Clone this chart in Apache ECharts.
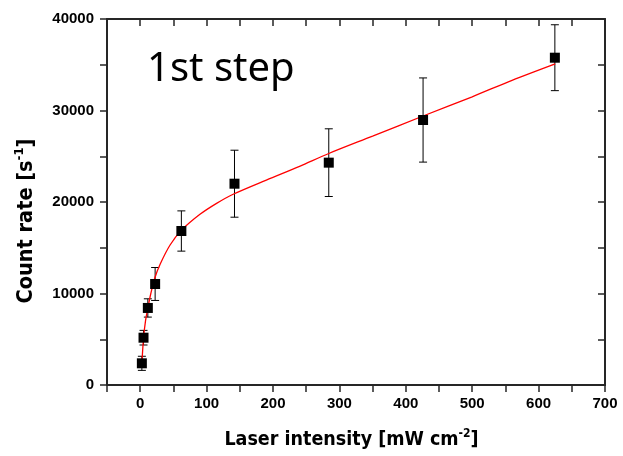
<!DOCTYPE html>
<html>
<head>
<meta charset="utf-8">
<script src="https://cdn.jsdelivr.net/npm/echarts@6/dist/echarts.min.js"></script>
<style>
  html, body { margin: 0; padding: 0; background: #fff; }
  #chart { width: 623px; height: 456px; }
</style>
</head>
<body>
<div id="chart"></div>
<script>
// measured points: laser intensity, count rate, error
var intensity = [2.5, 5, 11.5, 22.5, 62, 142, 284, 426, 624.5];
var countRate = [2370, 5170, 8420, 11040, 16830, 22000, 24300, 28960, 35770];
var countErr = [770, 800, 1000, 1800, 2200, 3660, 3700, 4600, 3600];

// red fit curve
var fitX = [2, 2.5, 5, 8, 11.5, 16, 22, 30, 45, 62, 90, 115, 140, 190, 240, 284, 350, 426, 500, 560, 625];
var fitY = [2000, 2400, 5100, 7000, 8400, 10000, 11700, 13200, 15300, 16900, 18650, 19850, 20850, 22400, 23900, 25300, 27200, 29400, 31500, 33300, 35100];

var xTicks = [0, 100, 200, 300, 400, 500, 600, 700];
var yTicks = [0, 10000, 20000, 30000, 40000];

var axisColor = '#262626';
var narrow = "'DejaVu Sans Condensed', 'Liberation Sans', sans-serif";

var points = intensity.map(function (x, i) { return [x, countRate[i]]; });
var bars = intensity.map(function (x, i) { return [x, countRate[i] - countErr[i], countRate[i] + countErr[i]]; });
var fit = fitX.map(function (x, i) { return [x, fitY[i]]; });

var chart = echarts.init(document.getElementById('chart'));

function baseAxis(extra) {
  var a = {
    type: 'value',
    axisLine: { show: true, onZero: false, lineStyle: { color: axisColor, width: 2 } },
    axisTick: { show: true, length: 7, lineStyle: { color: axisColor, width: 1.5 } },
    splitLine: { show: false }
  };
  for (var k in extra) a[k] = extra[k];
  return a;
}

var labelFont = { fontFamily: 'Liberation Sans', fontWeight: 'bold', fontSize: 15, color: '#000' };

function titleRich(size, supSize) {
  return {
    t: { fontFamily: narrow, fontWeight: 'bold', fontSize: size, color: '#000', lineHeight: size + 4 },
    s: { fontFamily: narrow, fontWeight: 'bold', fontSize: supSize, color: '#000', verticalAlign: 'top', lineHeight: size + 4 }
  };
}

var option = {
  animation: false,
  grid: { left: 107, right: 18, top: 19, bottom: 71 },
  xAxis: [
    baseAxis({
      min: -50, max: 700, interval: 50, position: 'bottom',
      axisLabel: Object.assign({
        margin: 11,
        formatter: function (v) { return xTicks.indexOf(v) >= 0 ? String(v) : ''; }
      }, labelFont),
      name: '{t|Laser intensity [mW cm}{s|-2}{t|]}',
      nameLocation: 'middle',
      nameGap: 43,
      nameTextStyle: { padding: [0, 9, 0, 0], rich: titleRich(19.5, 12) }
    }),
    baseAxis({
      min: -50, max: 700, interval: 50, position: 'top',
      axisTick: { show: true, inside: true, length: 7, lineStyle: { color: axisColor, width: 1.5 } },
      axisLabel: { show: false }
    })
  ],
  yAxis: [
    baseAxis({
      min: 0, max: 40000, interval: 5000, position: 'left',
      axisLabel: Object.assign({
        margin: 13,
        formatter: function (v) { return yTicks.indexOf(v) >= 0 ? String(v) : ''; }
      }, labelFont),
      name: '{t|Count rate [s}{s|-1}{t|]}',
      nameLocation: 'middle',
      nameRotate: 90,
      nameGap: 68,
      nameTextStyle: { padding: [0, 38, 0, 0], rich: titleRich(21.5, 13) }
    }),
    baseAxis({
      min: 0, max: 40000, interval: 5000, position: 'right',
      axisTick: { show: true, inside: true, length: 7, lineStyle: { color: axisColor, width: 1.5 } },
      axisLabel: { show: false }
    })
  ],
  graphic: [
    {
      type: 'text',
      left: 147,
      top: 50,
      style: { text: '1st step', fontFamily: 'Noto Sans', fontSize: 40, fill: '#000' }
    }
  ],
  series: [
    {
      type: 'line',
      data: fit,
      smooth: 0.3,
      showSymbol: false,
      lineStyle: { color: '#ff0000', width: 1.3 },
      z: 3
    },
    {
      type: 'custom',
      data: bars,
      renderItem: function (params, api) {
        var x = api.value(0);
        var lo = api.coord([x, api.value(1)]);
        var hi = api.coord([x, api.value(2)]);
        var w = 4;
        var st = { stroke: '#000', lineWidth: 1 };
        return {
          type: 'group',
          children: [
            { type: 'line', shape: { x1: lo[0], y1: lo[1], x2: hi[0], y2: hi[1] }, style: st },
            { type: 'line', shape: { x1: lo[0] - w, y1: lo[1], x2: lo[0] + w, y2: lo[1] }, style: st },
            { type: 'line', shape: { x1: hi[0] - w, y1: hi[1], x2: hi[0] + w, y2: hi[1] }, style: st }
          ]
        };
      },
      z: 2
    },
    {
      type: 'scatter',
      data: points,
      symbol: 'rect',
      symbolSize: 10,
      itemStyle: { color: '#000', opacity: 1 },
      z: 4
    }
  ]
};

chart.setOption(option);
</script>
</body>
</html>
